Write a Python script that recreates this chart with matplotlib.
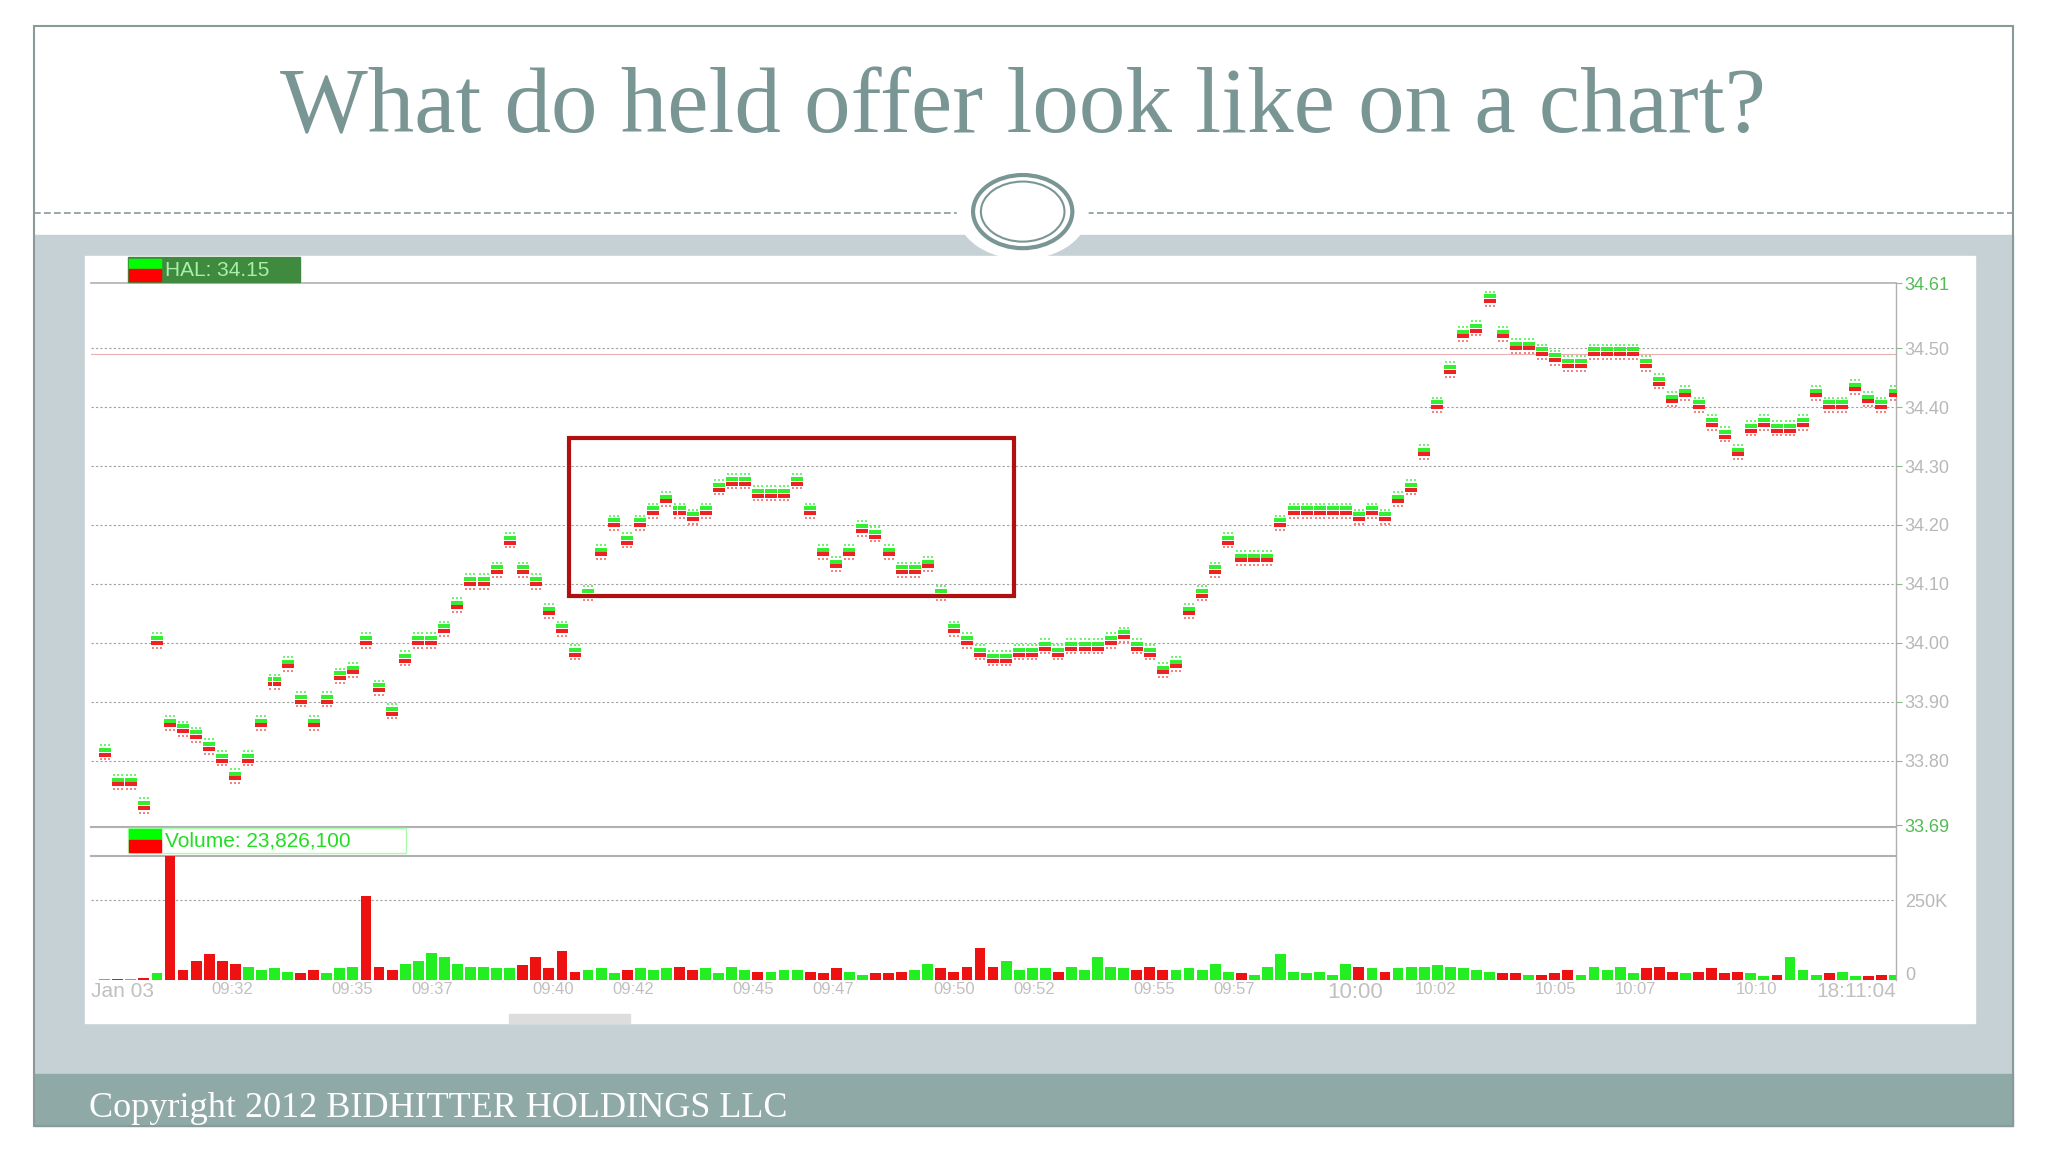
import matplotlib
matplotlib.use("Agg")
import matplotlib.pyplot as plt
from matplotlib.patches import Rectangle, Ellipse
import numpy as np
plt.rcParams['font.family'] = ['Liberation Sans', 'DejaVu Sans']

# ---- data ----
price = [33.81,33.76,33.76,33.72,34.00,33.86,
 33.85,33.84,33.82,33.80,33.77,33.80,33.86,33.93,33.96,33.90,33.86,33.90,33.94,33.95,
 34.00,33.92,33.88,33.97,34.00,34.00,34.02,34.06,34.10,34.10,34.12,34.17,34.12,34.10,
 34.05,34.02,33.98,34.08,34.15,34.20,34.17,34.20,34.22,34.24,34.22,34.21,34.22,34.26,
 34.27,34.27,34.25,34.25,34.25,34.27,34.22,34.15,34.13,34.15,34.19,34.18,34.15,34.12,
 34.12,34.13,34.08,34.02,34.00,33.98,33.97,33.97,33.98,33.98,33.99,33.98,33.99,33.99,
 33.99,34.00,34.01,33.99,33.98,33.95,33.96,34.05,34.08,34.12,34.17,34.14,34.14,34.14,
 34.20,34.22,34.22,34.22,34.22,34.22,34.21,34.22,34.21,34.24,34.26,34.32,34.40,34.46,
 34.52,34.53,34.58,34.52,34.50,34.50,34.49,34.48,34.47,34.47,34.49,34.49,34.49,34.49,
 34.47,34.44,34.41,34.42,34.40,34.37,34.35,34.32,34.36,34.37,34.36,34.36,34.37,34.42,
 34.40,34.40,34.43,34.41,34.40,34.42,34.44]
volume_k = [2,2,3,5,20,420,30,60,80,60,50,40,30,35,25,20,30,20,35,40,262,40,30,50,60,85,70,50,
 40,40,35,35,45,70,35,90,25,30,35,20,30,35,30,35,40,30,35,20,40,30,25,25,30,30,25,20,35,25,
 15,20,20,25,30,50,35,25,40,100,40,60,30,35,35,25,40,30,70,40,35,30,40,30,30,35,30,50,25,20,
 15,40,80,25,20,25,15,50,40,35,25,35,40,40,45,40,35,30,25,20,20,15,15,20,30,15,40,30,40,20,
 35,40,25,20,25,35,20,25,20,10,15,70,30,15,20,25,10,10,15,15]
red_override = [20]   # sample index of the red volume spike at 09:35
time_labels = ["09:32","09:35","09:37","09:40","09:42","09:45","09:47","09:50","09:52",
               "09:55","09:57","10:00","10:02","10:05","10:07","10:10"]
time_label_min = [2,5,7,10,12,15,17,20,22,25,27,30,32,35,37,40]
price_ticks = [33.69,33.80,33.90,34.00,34.10,34.20,34.30,34.40,34.50,34.61]

n = min(len(price), len(volume_k))
price = np.array(price[:n]); volume_k = np.array(volume_k[:n])
t = -1.17 + 0.3257*np.arange(n)   # minutes after 09:30
up = np.concatenate([[True], np.diff(price) >= 0])
for i in red_override: up[i] = False

W, H = 1568, 882
def fx(x): return x/W
def fy(y): return 1-y/H

fig = plt.figure(figsize=(20.48, 11.52), dpi=100)
fig.patch.set_facecolor("white")
bg = fig.add_axes([0,0,1,1]); bg.set_xlim(0,W); bg.set_ylim(H,0); bg.axis("off")
bg.add_patch(Rectangle((26,180),1515,642,color="#c5d1d5",zorder=1))
bg.add_patch(Rectangle((26,822),1515,40,color="#8fa9a6",zorder=1))
bg.add_patch(Rectangle((26,20),1515,842,fill=False,ec="#8a9a9a",lw=1.5,zorder=3))
bg.plot([26,735],[163,163],ls=(0,(4,2)),color="#8a9a9a",lw=1.2)
bg.plot([832,1541],[163,163],ls=(0,(4,2)),color="#8a9a9a",lw=1.2)
bg.add_patch(Ellipse((783,162),100,72,color="white",zorder=4))
bg.add_patch(Ellipse((783,162),76,56,fill=False,ec="#7a9694",lw=3,zorder=5))
bg.add_patch(Ellipse((783,162),64,46,fill=False,ec="#7a9694",lw=1.5,zorder=5))
bg.add_patch(Rectangle((65,196),1447,587,color="white",zorder=2))
bg.text(783,84,"What do held offer look like on a chart?",ha="center",va="center",
        family="Liberation Serif",fontsize=67,color="#7a9694")
bg.text(68,849,"Copyright 2012 BIDHITTER HOLDINGS LLC",ha="left",va="center",
        family="Liberation Serif",fontsize=26,color="white",zorder=4)
# legend boxes
bg.add_patch(Rectangle((98,197),132,19,color="#3f8a3f",zorder=4))
bg.add_patch(Rectangle((99,198),24,8,color="#00ff00",zorder=5))
bg.add_patch(Rectangle((99,206),24,9,color="#ff0000",zorder=5))
bg.text(126,207,"HAL: 34.15",va="center",ha="left",color="#a8f0a8",fontsize=15,zorder=6)
bg.add_patch(Rectangle((98,634),213,19,fill=False,ec="#aaffaa",lw=1,zorder=4))
bg.add_patch(Rectangle((99,635),24,8,color="#00ff00",zorder=5))
bg.add_patch(Rectangle((99,643),24,9,color="#ff0000",zorder=5))
bg.text(126,644,"Volume: 23,826,100",va="center",ha="left",color="#22dd22",fontsize=15,zorder=6)
bg.plot([70,1452],[655,655],color="#b0b0b0",lw=1.5,zorder=3)
bg.plot([70,1452],[633,633],color="#b0b0b0",lw=1.5,zorder=3)
bg.plot([70,1452],[217,217],color="#b0b0b0",lw=1.2,zorder=3)
bg.plot([1452,1452],[217,750],color="#b0b0b0",lw=1,zorder=3)
bg.add_patch(Rectangle((390,776),92,7,color="#dddddd",zorder=3))

xl = (-1.5, 43.5)
ax = fig.add_axes([fx(70), fy(632), fx(1452-70), fy(217)-fy(632)])
ax.set_xlim(*xl); ax.set_ylim(33.69, 34.61)
ax.patch.set_alpha(0)
for s in ax.spines.values(): s.set_visible(False)
ax.set_xticks([])
ax.yaxis.tick_right()
ax.set_yticks(price_ticks)
ax.set_yticklabels([f"{v:.2f}" for v in price_ticks])
ax.tick_params(axis="y", length=4, color="#80c080", labelsize=13, labelcolor="#b8b8b8", pad=2)
for lab in (ax.get_yticklabels()[0], ax.get_yticklabels()[-1]):
    lab.set_color("#55bb55")
for v in price_ticks[1:-1]:
    ax.axhline(v, color="#a0a0a0", ls=(0,(2,2)), lw=0.8)
ax.axhline(34.49, color="#e8b0b0", lw=0.8)
for dx in (-0.1, 0.0, 0.1):
    ax.scatter(t+dx, price+0.016, s=4, marker="s", color="#33ee33", lw=0, zorder=3, alpha=0.7)
    ax.scatter(t+dx, price+0.008, s=5, marker="s", color="#33ee33", lw=0, zorder=3)
    ax.scatter(t+dx, price, s=6, marker="s", color="#ee2222", lw=0, zorder=3)
    ax.scatter(t+dx, price-0.008, s=4, marker="s", color="#ee3333", lw=0, zorder=3, alpha=0.6)
ax.add_patch(Rectangle((10.4,34.08),11.1,0.268,fill=False,ec="#b01010",lw=3,zorder=5))

vx = fig.add_axes([fx(70), fy(750), fx(1452-70), fy(655)-fy(750)])
vx.set_xlim(*xl); vx.set_ylim(0, 390)
vx.patch.set_alpha(0)
for s in vx.spines.values(): s.set_visible(False)
vx.bar(t, volume_k, width=0.27, color=np.where(up, "#22ee22", "#ee1111"), zorder=3)
vx.axhline(0, color="#a0a0a0", lw=0.8)
vx.axhline(250, color="#a0a0a0", ls=(0,(2,2)), lw=0.8)
vx.yaxis.tick_right()
vx.set_yticks([20, 250]); vx.set_yticklabels(["0", "250K"])
vx.tick_params(axis="y", length=0, labelsize=13, labelcolor="#b8b8b8", pad=6)
vx.set_xticks(time_label_min); vx.set_xticklabels(time_labels)
vx.tick_params(axis="x", length=0, labelsize=12, labelcolor="#c0c0c0", pad=2)
for lab in vx.get_xticklabels():
    if lab.get_text() == "10:00": lab.set_fontsize(16)
vx.text(-1.5, -8, "Jan 03", ha="left", va="top", fontsize=15, color="#c0c0c0")
vx.text(43.5, -8, "18:11:04", ha="right", va="top", fontsize=15, color="#c0c0c0")

fig.savefig("out.png", dpi=100)
